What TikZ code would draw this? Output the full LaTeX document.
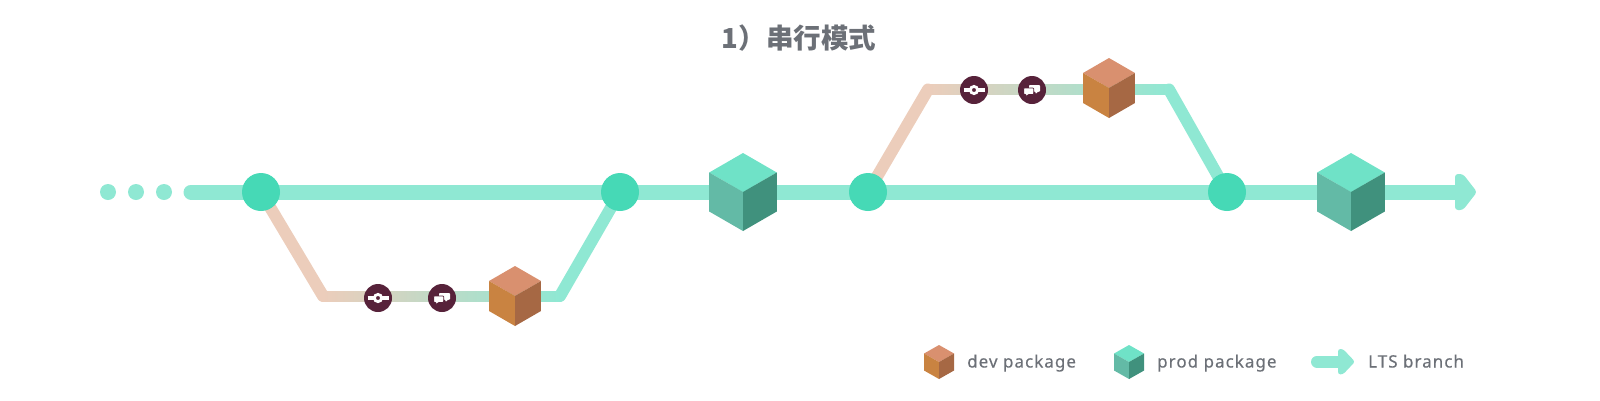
\documentclass[tikz,border=0pt]{standalone}
\usepackage{fontspec}
\setmainfont{Noto Sans}
\newfontfamily\cjk{Noto Sans CJK SC}
\newfontfamily\lgd[LetterSpace=6,FakeBold=0.3]{Noto Sans}
\usetikzlibrary{backgrounds}
\definecolor{mint}{HTML}{8FE8D3}
\definecolor{nodeg}{HTML}{46D9B6}
\definecolor{beige}{HTML}{ECCDBB}
\definecolor{plum}{HTML}{57223A}
\definecolor{txtg}{HTML}{6C7077}
\definecolor{dt}{HTML}{D9906F}\definecolor{dl}{HTML}{C98341}\definecolor{dr}{HTML}{A66844}
\definecolor{pt}{HTML}{6FE2C7}\definecolor{pl}{HTML}{63BAA6}\definecolor{pr}{HTML}{40917D}
\tikzset{
  merge/.style={circle,fill=nodeg,minimum size=38pt,inner sep=0pt},
  dotn/.style={circle,fill=mint,minimum size=16pt,inner sep=0pt},
  iconbg/.style={circle,fill=plum,minimum size=28pt,inner sep=0pt},
  branch/.style={line width=12pt,mint,line cap=round},
  devline/.style={line width=12pt,beige,line cap=round},
  trunk/.style={line width=15pt,mint,line cap=round},
  label/.style={text=txtg,font=\lgd\fontsize{17}{19}\selectfont,anchor=base west,inner sep=0pt},
  pics/cube/.style 2 args={code={
    \fill[#1t] (0,-#2) -- (.866*#2,-.5*#2) -- (0,0) -- (-.866*#2,-.5*#2) -- cycle;
    \fill[#1l] (0,0) -- (-.866*#2,-.5*#2) -- (-.866*#2,.5*#2) -- (0,#2) -- cycle;
    \fill[#1r] (0,0) -- (.866*#2,-.5*#2) -- (.866*#2,.5*#2) -- (0,#2) -- cycle;
  }},
  pics/commit/.style={code={
    \draw[white,line width=3.6pt] (-10.5,0) -- (-4,0) (4,0) -- (10.5,0);
    \draw[white,line width=2.8pt] (0,0) circle (3.6pt);
  }},
  pics/talk/.style={code={
    \fill[white,rounded corners=.8pt] (-3,-5) -- (8,-5) -- (8,1.7) -- (6,1.7) -- (3.5,4) -- (3.5,1.7) -- (-3,1.7) -- cycle;
    \fill[white,draw=plum,line width=.8pt,rounded corners=.8pt] (-8.4,-2) -- (1.7,-2) -- (1.7,4.4) -- (-3.5,4.4) -- (-6,7) -- (-6,4.4) -- (-8.4,4.4) -- cycle;
  }}
}
\begin{document}
\begin{tikzpicture}[x=1pt,y=-1pt]
\useasboundingbox (0,0) rectangle (1600,400);
% title
\node[text=txtg,font=\cjk\bfseries\fontsize{27.5}{30}\selectfont,inner sep=0pt] (title) at (799,38) {1）串行模式};
% leading dots
\node[dotn] (d1) at (108,192) {};
\node[dotn] (d2) at (136,192) {};
\node[dotn] (d3) at (164,192) {};
% merge nodes
\node[merge] (m1) at (261,192) {};
\node[merge] (m2) at (620,192) {};
\node[merge] (m3) at (868,192) {};
\node[merge] (m4) at (1227,192) {};
% trunk ends
\coordinate (start) at (191,192);
\coordinate (tip) at (1462,192);
\coordinate (lb1) at (323,296);
\coordinate (lb2) at (560,296);
\coordinate (ub1) at (928,89.5);
\coordinate (ub2) at (1169,89.5);
\begin{scope}[on background layer]
  \draw[trunk] (start) -- (tip);
  \fill[mint,rounded corners=3pt] (1455,174) -- (1463,174) -- (1477,192) -- (1463,210) -- (1455,210) -- cycle;
  \draw[devline] (m1.center) -- (lb1);
  \draw[branch] (lb2) -- (m2.center);
  \draw[devline] (m3.center) -- (ub1);
  \draw[branch] (ub2) -- (m4.center);
  \shade[left color=beige,right color=mint,shading angle=90] ([yshift=-5pt]lb1) rectangle ([yshift=5pt]lb2);
  \shade[left color=beige,right color=mint,shading angle=90] ([yshift=-5pt]ub1) rectangle ([yshift=5pt]ub2);
\end{scope}
% icons
\node[iconbg] (c1) at (378,298) {}; \pic at (c1) {commit};
\node[iconbg] (t1) at (442,298) {}; \pic at (t1) {talk};
\node[iconbg] (c2) at (974,90) {}; \pic at (c2) {commit};
\node[iconbg] (t2) at (1032,90) {}; \pic at (t2) {talk};
% cubes
\pic at (743,192) {cube={p}{39}};
\pic at (1351,192) {cube={p}{39}};
\pic at (515,296) {cube={d}{30}};
\pic at (1109,88) {cube={d}{30}};
% legend
\begin{scope}[x=1.02pt]
\pic at (920.6,362) {cube={d}{17}};
\pic at (1106.9,362) {cube={p}{17}};
\end{scope}
\node[label] (l1) at (967,367.5) {dev package};
\node[label] (l2) at (1157,367.5) {prod package};
\coordinate (la) at (1317,361.7);
\coordinate (lb) at (1342,361.7);
\draw[line width=12pt,mint,line cap=round] (la) -- (lb);
\fill[mint,rounded corners=2.5pt] (1338,349) -- (1343,349) -- (1355,361.7) -- (1343,374.4) -- (1338,374.4) -- cycle;
\node[label] (l3) at (1368,367.5) {LTS branch};
\end{tikzpicture}
\end{document}
